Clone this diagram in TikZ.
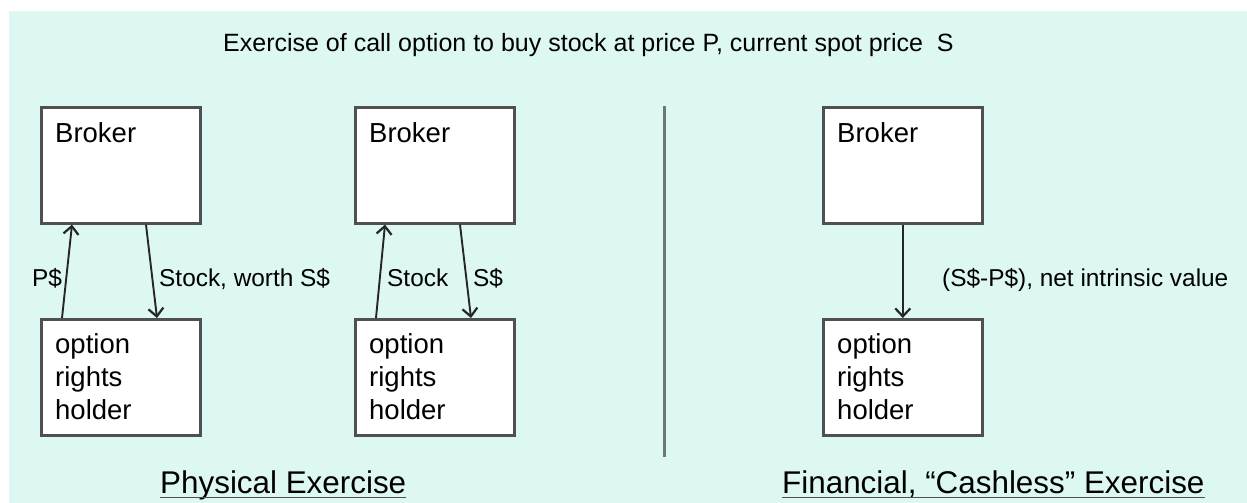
\documentclass[tikz,border=0pt]{standalone}
\usepackage{fontspec}
\setmainfont{Liberation Sans}
\usetikzlibrary{arrows.meta,calc}
\definecolor{bgcyan}{HTML}{DDF7F3}
\definecolor{boxline}{HTML}{505050}
\definecolor{divline}{HTML}{6E7877}
\tikzset{
  box/.style={draw=boxline, line width=2.6pt, fill=white, rectangle, minimum width=159pt, minimum height=116pt, inner sep=0pt, anchor=north west},
  boxtext/.style={anchor=base west, inner sep=0pt, font=\fontsize{27.5}{33}\selectfont},
  lbl/.style={anchor=base west, inner sep=0pt, font=\fontsize{24.4}{29}\selectfont},
  ttl/.style={anchor=base west, inner sep=0pt, font=\fontsize{25}{30}\selectfont},
  foot/.style={anchor=base west, inner sep=0pt, font=\fontsize{31.4}{36}\selectfont},
  arr/.style={draw=black!85, line width=1.9pt, -{Straight Barb[length=8pt,width=15pt,line width=2.2pt]}},
}
\begin{document}
\begin{tikzpicture}[x=1pt,y=-1pt]
\useasboundingbox (0,0) rectangle (1247,503);
\fill[white] (0,0) rectangle (1247,503);
\fill[bgcyan] (9,11) rectangle (1247,503);

% title
\node[ttl] (title) at (223,52) {Exercise of call option to buy stock at price P, current spot price~~S};

% boxes
\node[box] (br1) at (40,106) {};
\node[box] (oh1) at (40,318) {};
\node[box] (br2) at (354,106) {};
\node[box] (oh2) at (354,318) {};
\node[box] (br3) at (822,106) {};
\node[box] (oh3) at (822,318) {};

% box texts
\node[boxtext] (br1t) at (55,142) {Broker};
\node[boxtext] (br2t) at (369,142) {Broker};
\node[boxtext] (br3t) at (837,142) {Broker};
\foreach \n/\x in {1/55,2/369,3/837}{
  \node[boxtext] (oh\n a) at (\x,353) {option};
  \node[boxtext] (oh\n b) at (\x,386) {rights};
  \node[boxtext] (oh\n c) at (\x,419) {holder};
}

% connector end points on box edges
\coordinate (p1s) at ($(oh1.north west)+(22,0)$);
\coordinate (p1e) at ($(br1.south west)+(32,0)$);
\coordinate (s1s) at ($(br1.south west)+(106,0)$);
\coordinate (s1e) at ($(oh1.north west)+(117,0)$);
\coordinate (p2s) at ($(oh2.north west)+(22,0)$);
\coordinate (p2e) at ($(br2.south west)+(31,0)$);
\coordinate (s2s) at ($(br2.south west)+(106,0)$);
\coordinate (s2e) at ($(oh2.north west)+(117,0)$);

\draw[arr] (p1s) -- (p1e);
\draw[arr] (s1s) -- (s1e);
\draw[arr] (p2s) -- (p2e);
\draw[arr] (s2s) -- (s2e);
\draw[arr] (br3.south) -- (oh3.north);

% connector labels
\node[lbl] (l1) at (32,286) {P\$};
\node[lbl] (l2) at (159,286) {Stock, worth S\$};
\node[lbl] (l3) at (387,286) {Stock};
\node[lbl] (l4) at (473,286) {S\$};
\node[lbl] (l5) at (942,286) {(S\$-P\$), net intrinsic value};

% divider
\coordinate (dtop) at (664,106);
\coordinate (dbot) at (664,457);
\draw[divline, line width=3pt] (dtop) -- (dbot);

% footers
\node[foot] (f1) at (160,493) {Physical Exercise};
\node[foot] (f2) at (782,493) {Financial, “Cashless” Exercise};
\draw[boxline, line width=1.5pt] ($(f1.base west)+(0,4.5)$) -- ($(f1.base east)+(0,4.5)$);
\draw[boxline, line width=1.5pt] ($(f2.base west)+(0,4.5)$) -- ($(f2.base east)+(0,4.5)$);
\end{tikzpicture}
\end{document}
